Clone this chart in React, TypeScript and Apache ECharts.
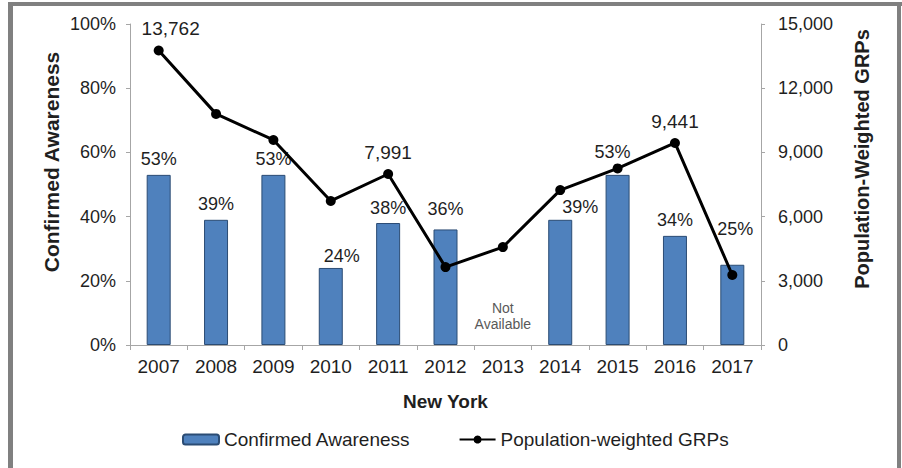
import React, { useEffect, useRef } from "react";
import * as echarts from "echarts";

const years = ["2007", "2008", "2009", "2010", "2011", "2012", "2013", "2014", "2015", "2016", "2017"];
const awareness: (number | null)[] = [53, 39, 53, 24, 38, 36, null, 39, 53, 34, 25];
const grps = [13762, 10800, 9580, 6730, 7991, 3640, 4575, 7240, 8250, 9441, 3270];
const labeledGrpYears = ["2007", "2011", "2016"];
const notAvailableText = "Not\nAvailable";

const FONT = "Liberation Sans, Arial, sans-serif";
const TEXT = "#1f1f1f";
const AXIS = "#a6a6a6";

const barLabelTweaks: Record<string, { distance?: number; offset?: number[] }> = {
  "2010": { distance: 3, offset: [11, 0] },
  "2011": { distance: 6 },
  "2012": { distance: 11 },
  "2014": { distance: 4, offset: [20, 0] },
  "2015": { distance: 14, offset: [-5, 0] },
  "2017": { distance: 27, offset: [3, 0] },
};

const lineLabelTweaks: Record<string, number[]> = {
  "2007": [12, 0],
};

export default function App() {
  const ref = useRef<HTMLDivElement>(null);

  useEffect(() => {
    if (!ref.current) return;
    const chart = echarts.init(ref.current, undefined, { renderer: "svg" });

    const barData = years.map((y, i) => {
      const v = awareness[i];
      if (v === null) {
        return {
          value: 0,
          itemStyle: { borderWidth: 0, color: "rgba(0,0,0,0)" },
          label: {
            show: true,
            position: "top",
            distance: 13,
            formatter: notAvailableText,
            fontSize: 14,
            lineHeight: 16,
            color: "#595959",
            fontFamily: FONT,
          },
        };
      }
      const t = barLabelTweaks[y] || {};
      return {
        value: v,
        label: {
          distance: t.distance ?? 7,
          offset: t.offset ?? [0, 0],
        },
      };
    });

    const lineData = years.map((y, i) => {
      const show = labeledGrpYears.includes(y);
      return {
        value: grps[i],
        label: {
          show,
          offset: lineLabelTweaks[y] ?? [0, 0],
        },
      };
    });

    chart.setOption({
      animation: false,
      backgroundColor: "#ffffff",
      textStyle: { fontFamily: FONT },
      grid: { left: 130, right: 141, top: 24, bottom: 123, containLabel: false },
      legend: {
        left: 177,
        top: 425,
        itemWidth: 36,
        itemHeight: 10,
        itemGap: 48,
        textStyle: { fontSize: 19, color: TEXT, fontFamily: FONT },
        data: ["Confirmed Awareness", "Population-weighted GRPs"],
      },
      xAxis: {
        type: "category",
        data: years,
        name: "New York",
        nameLocation: "middle",
        nameGap: 47,
        nameTextStyle: { fontSize: 19, fontWeight: "bold", color: TEXT, fontFamily: FONT },
        axisLine: { lineStyle: { color: AXIS, width: 1 } },
        axisTick: { show: true, length: 5, alignWithLabel: false, lineStyle: { color: AXIS } },
        axisLabel: { fontSize: 19, color: TEXT, margin: 12, fontFamily: FONT },
        splitLine: { show: false },
      },
      yAxis: [
        {
          type: "value",
          min: 0,
          max: 100,
          interval: 20,
          position: "left",
          axisLine: { show: true, lineStyle: { color: AXIS, width: 1 } },
          axisTick: { show: true, length: 4, lineStyle: { color: AXIS } },
          axisLabel: { formatter: "{value}%", fontSize: 18, color: TEXT, margin: 14, fontFamily: FONT },
          splitLine: { show: false },
        },
        {
          type: "value",
          min: 0,
          max: 15000,
          interval: 3000,
          position: "right",
          axisLine: { show: true, lineStyle: { color: AXIS, width: 1 } },
          axisTick: { show: true, length: 4, lineStyle: { color: AXIS } },
          axisLabel: {
            formatter: (v: number) => v.toLocaleString("en-US"),
            fontSize: 18,
            color: TEXT,
            margin: 17,
            fontFamily: FONT,
          },
          splitLine: { show: false },
        },
      ],
      graphic: [
        { type: "rect", shape: { x: 8, y: 2, width: 894, height: 4 }, style: { fill: "#808080" }, silent: true },
        { type: "rect", shape: { x: 8, y: 2, width: 5, height: 466 }, style: { fill: "#808080" }, silent: true },
        { type: "rect", shape: { x: 897, y: 2, width: 4, height: 466 }, style: { fill: "#808080" }, silent: true },
        {
          type: "text",
          x: 51,
          y: 162,
          rotation: Math.PI / 2,
          style: {
            text: "Confirmed Awareness",
            fontSize: 21,
            fontWeight: "bold",
            fill: TEXT,
            fontFamily: FONT,
            align: "center",
            verticalAlign: "middle",
          },
        },
        {
          type: "text",
          x: 862,
          y: 159,
          rotation: Math.PI / 2,
          style: {
            text: "Population-Weighted GRPs",
            fontSize: 20,
            fontWeight: "bold",
            fill: TEXT,
            fontFamily: FONT,
            align: "center",
            verticalAlign: "middle",
          },
        },
      ],
      series: [
        {
          name: "Confirmed Awareness",
          type: "bar",
          yAxisIndex: 0,
          barWidth: 24,
          data: barData,
          itemStyle: { color: "#4F81BD", borderColor: "#2B4C74", borderWidth: 1 },
          label: {
            show: true,
            position: "top",
            formatter: "{c}%",
            fontSize: 18,
            color: TEXT,
            fontFamily: FONT,
          },
          z: 2,
        },
        {
          name: "Population-weighted GRPs",
          type: "line",
          yAxisIndex: 1,
          data: lineData,
          symbol: "circle",
          symbolSize: 10,
          lineStyle: { color: "#000000", width: 3 },
          itemStyle: { color: "#000000" },
          label: {
            position: "top",
            distance: 7,
            fontSize: 19,
            color: TEXT,
            fontFamily: FONT,
            formatter: (p: any) => Number(p.value).toLocaleString("en-US"),
          },
          z: 3,
        },
      ],
    });

    return () => chart.dispose();
  }, []);

  return (
    <div
      ref={ref}
      style={{ position: "absolute", left: 0, top: 0, width: 902, height: 468 }}
    />
  );
}
